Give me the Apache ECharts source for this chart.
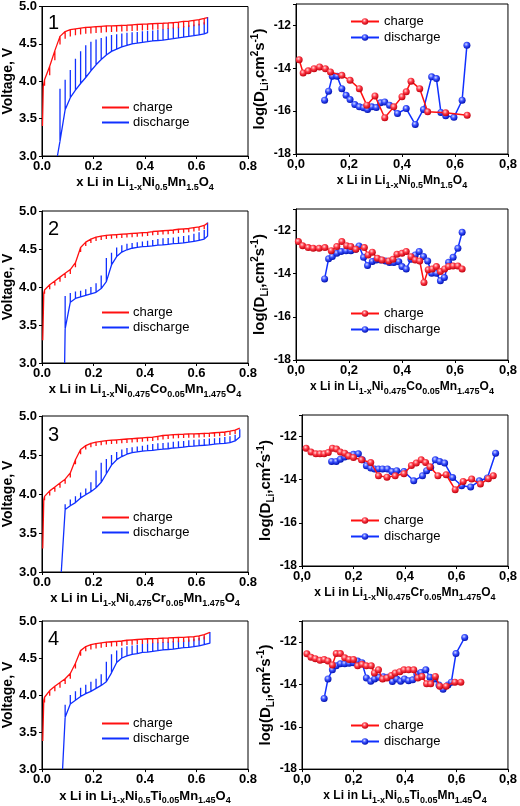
<!DOCTYPE html>
<html><head><meta charset="utf-8">
<script src="https://cdn.jsdelivr.net/npm/echarts@6.0.0/dist/echarts.min.js"></script>
<style>html,body{margin:0;padding:0;background:#fff}#c{width:520px;height:806px}</style>
</head><body><div id="c"></div>
<script>
// ---------- tick labels ----------
const xTickLabelsL = ['0.0','0.2','0.4','0.6','0.8'];
const xTickLabelsR = ['0,0','0,2','0,4','0,6','0,8'];
const vTickLabels = ['3.0','3.5','4.0','4.5','5.0'];
const dTickLabels = ['-18','-16','-14','-12'];
const panelNumbers = ['1','2','3','4'];
const formulaNames = [
  'x Li in Li{s|1-x}Ni{s|0.5}Mn{s|1.5}O{s|4}',
  'x Li in Li{s|1-x}Ni{s|0.475}Co{s|0.05}Mn{s|1.475}O{s|4}',
  'x Li in Li{s|1-x}Ni{s|0.475}Cr{s|0.05}Mn{s|1.475}O{s|4}',
  'x Li in Li{s|1-x}Ni{s|0.5}Ti{s|0.05}Mn{s|1.45}O{s|4}'
];

// ---------- GITT voltage data (pulse x, voltage under load, relaxed voltage) ----------
const pulseX = [0.01,0.03,0.05,0.07,0.09,0.11,0.13,0.15,0.17,0.19,0.21,0.23,0.25,0.27,0.29,0.31,0.33,0.35,0.37,0.39,0.41,0.43,0.45,0.47,0.49,0.51,0.53,0.55,0.57,0.59,0.61,0.63];
const pulseX3 = [0.01,0.03,0.05,0.07,0.09,0.11,0.13,0.15,0.17,0.19,0.21,0.23,0.25,0.27,0.29,0.31,0.33,0.35,0.37,0.39,0.41,0.43,0.45,0.47,0.49,0.51,0.53,0.55,0.57,0.59,0.61,0.63,0.65,0.67,0.69,0.71,0.73,0.75];

// panel 1
const p1ChgHead = [[0.002,3.40],[0.005,3.93]];
const p1ChgV = [4.02,4.20,4.41,4.60,4.665,4.69,4.70,4.71,4.72,4.725,4.73,4.735,4.74,4.742,4.745,4.748,4.75,4.755,4.76,4.763,4.766,4.77,4.773,4.776,4.78,4.785,4.79,4.80,4.805,4.815,4.825,4.84];
const p1ChgR = [3.94,4.08,4.28,4.49,4.57,4.60,4.615,4.625,4.635,4.64,4.645,4.65,4.655,4.66,4.662,4.665,4.668,4.672,4.676,4.68,4.684,4.688,4.692,4.696,4.70,4.705,4.71,4.72,4.725,4.735,4.745,4.76];
const p1ChgTail = [[0.643,4.85]];
const p1DisHead = [[0.06,3.00]];
const p1DisV = [null,null,null,3.20,3.62,3.78,3.88,3.97,4.05,4.14,4.22,4.29,4.35,4.40,4.43,4.46,4.48,4.50,4.51,4.52,4.53,4.54,4.545,4.55,4.56,4.57,4.58,4.59,4.60,4.61,4.62,4.635];
const p1DisR = [null,null,null,3.90,4.02,4.15,4.30,4.40,4.48,4.53,4.56,4.58,4.60,4.62,4.63,4.64,4.65,4.655,4.66,4.67,4.675,4.68,4.69,4.70,4.71,4.72,4.73,4.74,4.75,4.76,4.77,4.79];
const p1DisTail = [[0.643,4.65],[0.643,4.86]];

// panel 2
const p2ChgHead = [[0.003,3.30],[0.007,3.92]];
const p2ChgV = [3.96,4.03,4.08,4.13,4.18,4.23,4.32,4.52,4.59,4.63,4.655,4.67,4.68,4.685,4.69,4.695,4.70,4.705,4.71,4.715,4.72,4.73,4.735,4.74,4.745,4.75,4.76,4.765,4.77,4.78,4.79,4.81];
const p2ChgR = [3.91,3.97,4.02,4.07,4.12,4.17,4.26,4.46,4.54,4.58,4.605,4.62,4.63,4.635,4.64,4.645,4.65,4.655,4.66,4.665,4.67,4.68,4.685,4.69,4.695,4.70,4.71,4.715,4.72,4.73,4.74,4.76];
const p2ChgTail = [[0.643,4.84]];
const p2DisHead = [[0.088,3.00]];
const p2DisV = [null,null,null,null,3.45,3.80,3.85,3.87,3.89,3.91,3.93,3.98,4.07,4.29,4.40,4.46,4.49,4.51,4.52,4.53,4.535,4.54,4.55,4.555,4.56,4.57,4.575,4.58,4.59,4.60,4.615,4.63];
const p2DisR = [null,null,null,null,3.88,3.92,3.94,3.95,3.97,4.00,4.05,4.15,4.38,4.45,4.52,4.55,4.57,4.58,4.59,4.60,4.61,4.62,4.63,4.64,4.645,4.65,4.66,4.67,4.68,4.70,4.72,4.75];
const p2DisTail = [[0.643,4.67],[0.643,4.85]];

// panel 3
const p3ChgHead = [[0.003,3.30],[0.007,3.93]];
const p3ChgV = [3.97,4.04,4.09,4.14,4.19,4.27,4.44,4.57,4.62,4.65,4.665,4.675,4.685,4.69,4.695,4.70,4.705,4.71,4.715,4.72,4.725,4.73,4.74,4.75,4.755,4.76,4.765,4.767,4.77,4.772,4.775,4.778,4.78,4.785,4.79,4.795,4.805,4.82];
const p3ChgR = [3.92,3.98,4.03,4.08,4.13,4.21,4.38,4.51,4.57,4.60,4.615,4.625,4.635,4.64,4.645,4.65,4.655,4.66,4.665,4.67,4.675,4.68,4.69,4.70,4.705,4.71,4.715,4.717,4.72,4.722,4.725,4.728,4.73,4.735,4.74,4.745,4.755,4.77];
const p3ChgTail = [[0.768,4.845]];
const p3DisHead = [[0.075,3.00]];
const p3DisV = [null,null,null,null,3.80,3.85,3.89,3.95,3.99,4.03,4.08,4.15,4.26,4.37,4.44,4.48,4.51,4.53,4.54,4.55,4.555,4.56,4.57,4.575,4.58,4.59,4.595,4.60,4.61,4.615,4.62,4.625,4.63,4.64,4.645,4.65,4.66,4.68];
const p3DisR = [null,null,null,null,3.87,3.93,3.97,4.02,4.07,4.15,4.30,4.40,4.45,4.50,4.54,4.57,4.59,4.60,4.61,4.62,4.63,4.64,4.65,4.655,4.66,4.67,4.675,4.68,4.69,4.695,4.70,4.705,4.71,4.715,4.72,4.73,4.74,4.76];
const p3DisTail = [[0.768,4.73],[0.768,4.83]];

// panel 4
const p4ChgHead = [[0.003,3.38],[0.007,3.93]];
const p4ChgV = [3.97,4.06,4.12,4.17,4.22,4.29,4.43,4.60,4.655,4.68,4.695,4.705,4.715,4.72,4.725,4.73,4.74,4.745,4.75,4.755,4.76,4.763,4.766,4.77,4.772,4.775,4.778,4.78,4.785,4.79,4.80,4.815];
const p4ChgR = [3.90,3.99,4.05,4.10,4.15,4.22,4.36,4.53,4.59,4.615,4.63,4.64,4.65,4.655,4.66,4.665,4.675,4.68,4.685,4.69,4.695,4.698,4.70,4.705,4.707,4.71,4.713,4.715,4.72,4.725,4.735,4.75];
const p4ChgTail = [[0.652,4.845]];
const p4DisHead = [[0.08,3.00]];
const p4DisV = [null,null,null,null,3.70,3.88,3.93,3.98,4.02,4.05,4.09,4.13,4.18,4.30,4.44,4.50,4.53,4.55,4.56,4.575,4.58,4.59,4.60,4.61,4.615,4.62,4.63,4.64,4.645,4.655,4.665,4.68];
const p4DisR = [null,null,null,null,3.87,4.00,4.05,4.10,4.14,4.18,4.22,4.28,4.45,4.55,4.60,4.64,4.66,4.67,4.68,4.69,4.70,4.705,4.71,4.715,4.72,4.73,4.735,4.74,4.75,4.76,4.77,4.79];
const p4DisTail = [[0.652,4.70],[0.652,4.85]];

// ---------- diffusion coefficient data log(D) ----------
const d1ChgX = [0.012,0.027,0.046,0.068,0.089,0.111,0.130,0.173,0.204,0.239,0.267,0.298,0.335,0.369,0.400,0.416,0.434,0.467,0.497,0.565,0.646];
const d1ChgY = [-13.60,-14.22,-14.12,-14.02,-13.94,-14.02,-14.17,-14.33,-14.56,-14.95,-15.72,-15.29,-16.31,-15.80,-15.33,-15.10,-14.60,-14.95,-16.03,-16.08,-16.19];
const d1DisX = [0.108,0.123,0.137,0.155,0.173,0.189,0.204,0.222,0.239,0.255,0.270,0.286,0.303,0.319,0.335,0.353,0.383,0.416,0.450,0.481,0.512,0.530,0.547,0.565,0.596,0.627,0.645];
const d1DisY = [-15.49,-15.07,-14.37,-14.37,-14.95,-15.26,-15.46,-15.69,-15.80,-15.84,-15.92,-15.80,-15.83,-15.61,-15.57,-15.72,-16.11,-15.88,-16.62,-15.92,-14.40,-14.48,-16.06,-16.22,-16.29,-15.49,-12.93];

const d2ChgX = [0.009,0.025,0.046,0.065,0.087,0.109,0.133,0.154,0.173,0.191,0.207,0.226,0.258,0.272,0.288,0.307,0.325,0.350,0.366,0.381,0.400,0.416,0.434,0.450,0.467,0.483,0.499,0.514,0.530,0.545,0.561,0.576,0.593,0.611,0.627];
const d2ChgY = [-12.51,-12.70,-12.79,-12.82,-12.82,-12.79,-12.93,-12.74,-12.51,-12.70,-12.74,-12.87,-12.79,-13.13,-13.00,-13.28,-13.36,-13.41,-13.33,-13.10,-13.05,-12.97,-13.21,-13.36,-13.41,-14.41,-13.82,-13.78,-13.67,-13.90,-13.78,-13.67,-13.64,-13.64,-13.78];
const d2DisX = [0.108,0.123,0.137,0.154,0.170,0.189,0.207,0.225,0.238,0.255,0.270,0.288,0.303,0.319,0.338,0.353,0.369,0.388,0.400,0.416,0.434,0.450,0.465,0.481,0.497,0.512,0.530,0.545,0.560,0.576,0.593,0.611,0.627];
const d2DisY = [-14.24,-13.31,-13.20,-13.05,-12.97,-12.94,-12.93,-12.87,-12.71,-13.24,-13.62,-13.43,-13.36,-13.36,-13.41,-13.48,-13.48,-13.44,-13.67,-13.78,-13.33,-13.13,-12.97,-13.20,-13.41,-13.98,-13.98,-14.33,-14.18,-13.47,-13.24,-12.82,-12.08];

const d3ChgX = [0.016,0.035,0.054,0.070,0.086,0.102,0.118,0.134,0.149,0.166,0.181,0.200,0.231,0.267,0.297,0.330,0.362,0.396,0.425,0.444,0.463,0.480,0.497,0.528,0.560,0.595,0.626,0.659,0.693,0.724,0.743];
const d3ChgY = [-12.54,-12.72,-12.80,-12.80,-12.80,-12.74,-12.54,-12.58,-12.72,-12.77,-12.90,-12.97,-13.08,-13.20,-13.82,-13.88,-13.82,-13.72,-13.34,-13.23,-13.08,-13.20,-13.40,-13.82,-13.77,-14.46,-14.08,-13.97,-14.20,-13.95,-13.82];
const d3DisX = [0.115,0.133,0.149,0.166,0.181,0.200,0.219,0.234,0.250,0.267,0.282,0.297,0.313,0.332,0.349,0.368,0.396,0.434,0.468,0.484,0.500,0.518,0.535,0.554,0.585,0.620,0.655,0.689,0.720,0.752];
const d3DisY = [-13.15,-13.15,-13.05,-12.95,-12.89,-12.82,-12.80,-13.08,-13.35,-13.46,-13.50,-13.50,-13.50,-13.50,-13.62,-13.58,-13.62,-14.05,-13.82,-13.58,-13.43,-13.08,-13.15,-13.23,-13.90,-14.28,-14.34,-14.05,-13.92,-12.77];

const d4ChgX = [0.019,0.035,0.052,0.070,0.086,0.101,0.118,0.133,0.149,0.166,0.183,0.200,0.216,0.233,0.250,0.269,0.281,0.297,0.313,0.330,0.347,0.362,0.380,0.396,0.414,0.434,0.450,0.466,0.484,0.500,0.518,0.535,0.560,0.594,0.617];
const d4ChgY = [-12.55,-12.71,-12.78,-12.86,-12.82,-12.89,-13.08,-12.54,-12.54,-12.74,-12.82,-12.82,-13.12,-13.05,-13.12,-13.12,-13.46,-13.31,-13.74,-13.69,-13.58,-13.46,-13.40,-13.31,-13.31,-13.31,-13.69,-13.62,-13.97,-13.97,-13.62,-14.08,-14.08,-13.89,-13.89];
const d4DisX = [0.086,0.101,0.118,0.133,0.149,0.166,0.183,0.200,0.216,0.233,0.250,0.267,0.282,0.299,0.316,0.332,0.351,0.368,0.383,0.398,0.414,0.430,0.446,0.462,0.481,0.497,0.516,0.532,0.548,0.567,0.580,0.598,0.632];
const d4DisY = [-14.66,-13.74,-13.31,-13.12,-13.02,-13.02,-13.00,-12.97,-12.89,-12.97,-13.69,-13.85,-13.74,-13.66,-13.63,-13.66,-13.86,-13.74,-13.85,-13.74,-13.82,-13.78,-13.51,-13.43,-13.31,-13.66,-13.74,-14.02,-14.23,-14.02,-13.89,-12.54,-11.78];

// ---------- builders ----------
function gitt(head, xs, v, r, tail) {
  const d = head.slice();
  for (let i = 0; i < xs.length; i++) {
    if (v[i] == null) continue;
    d.push([xs[i], v[i]]);
    if (r[i] != null && r[i] !== v[i]) { d.push([xs[i], r[i]]); d.push([xs[i], v[i]]); }
  }
  return d.concat(tail);
}
function zip(xs, ys) { return xs.map((x, i) => [x, ys[i]]); }

const gittData = [
  [gitt(p1ChgHead, pulseX, p1ChgV, p1ChgR, p1ChgTail), gitt(p1DisHead, pulseX, p1DisV, p1DisR, p1DisTail)],
  [gitt(p2ChgHead, pulseX, p2ChgV, p2ChgR, p2ChgTail), gitt(p2DisHead, pulseX, p2DisV, p2DisR, p2DisTail)],
  [gitt(p3ChgHead, pulseX3, p3ChgV, p3ChgR, p3ChgTail), gitt(p3DisHead, pulseX3, p3DisV, p3DisR, p3DisTail)],
  [gitt(p4ChgHead, pulseX, p4ChgV, p4ChgR, p4ChgTail), gitt(p4DisHead, pulseX, p4DisV, p4DisR, p4DisTail)]
];
const dData = [
  [zip(d1ChgX, d1ChgY), zip(d1DisX, d1DisY)],
  [zip(d2ChgX, d2ChgY), zip(d2DisX, d2DisY)],
  [zip(d3ChgX, d3ChgY), zip(d3DisX, d3DisY)],
  [zip(d4ChgX, d4ChgY), zip(d4DisX, d4DisY)]
];

// ---------- layout ----------
const gridsL = [
  {left:39, top:5, width:209, height:151},
  {left:39, top:211, width:209, height:152},
  {left:39, top:416, width:209, height:156},
  {left:39, top:621, width:209, height:152}
];
const gridsR = [
  {left:296, top:4, width:215, height:150},
  {left:296, top:209, width:215, height:151},
  {left:302, top:415, width:211, height:151},
  {left:302, top:621, width:211, height:151}
];
const nameGapL = [10, 7, 10, 7];
const nameGapR = [8, 10, 14, 9];
const legendTopL = [96, 301, 506, 712];
const legendTopR = [10, 302, 509, 714];
const numTop = [8, 214, 420, 624];

const FONT = 'Liberation Sans, Arial, sans-serif';
const RED = '#ff1010', BLUE = '#1030ff';
const redBall = new echarts.graphic.RadialGradient(0.4, 0.35, 0.65, [
  {offset:0, color:'#ffd8d8'}, {offset:0.45, color:'#ff3a48'}, {offset:1, color:'#c0000c'}]);
const blueBall = new echarts.graphic.RadialGradient(0.4, 0.35, 0.65, [
  {offset:0, color:'#d0d8ff'}, {offset:0.45, color:'#3a50ff'}, {offset:1, color:'#0010b0'}]);

const grid = [], xAxis = [], yAxis = [], series = [], legend = [], title = [];

function labelLookup(arr, min, step) { return v => arr[Math.round((v - min) / step)]; }

for (let p = 0; p < 4; p++) {
  // left panel
  grid.push(Object.assign({show:true, borderColor:'#000', borderWidth:1, containLabel:false}, gridsL[p]));
  const gi = grid.length - 1;
  xAxis.push({type:'value', gridIndex:gi, min:0, max:0.8, interval:0.2,
    axisLine:{show:true, onZero:false, lineStyle:{color:'#000', width:1}},
    axisTick:{show:true, inside:false, length:3, lineStyle:{color:'#000'}},
    splitLine:{show:false},
    axisLabel:{color:'#000', fontSize:13, fontWeight:'bold', fontFamily:FONT, margin:4,
      formatter: labelLookup(xTickLabelsL, 0, 0.2)},
    name: formulaNames[p], nameLocation:'middle', nameGap:nameGapL[p],
    nameTextStyle:{color:'#000', fontSize:13, fontWeight:'bold', fontFamily:FONT, lineHeight:18,
      rich:{s:{fontSize:9, fontWeight:'bold', fontFamily:FONT, lineHeight:9, verticalAlign:'bottom', color:'#000'}}}
  });
  yAxis.push({type:'value', gridIndex:gi, min:3, max:5, interval:0.5,
    axisLine:{show:true, onZero:false, lineStyle:{color:'#000', width:1}},
    axisTick:{show:true, inside:false, length:3, lineStyle:{color:'#000'}},
    splitLine:{show:false},
    axisLabel:{color:'#000', fontSize:13, fontWeight:'bold', fontFamily:FONT, margin:5,
      formatter: labelLookup(vTickLabels, 3, 0.5)},
    name:'Voltage, V', nameLocation:'middle', nameGap:23,
    nameTextStyle:{color:'#000', fontSize:14, fontWeight:'bold', fontFamily:FONT}
  });
  series.push({type:'line', name:'charge', xAxisIndex:gi, yAxisIndex:gi, data:gittData[p][0],
    symbol:'none', showSymbol:false, lineStyle:{color:RED, width:1.3}, itemStyle:{color:RED}, z:3, animation:false});
  series.push({type:'line', name:'discharge', xAxisIndex:gi, yAxisIndex:gi, data:gittData[p][1],
    symbol:'none', showSymbol:false, lineStyle:{color:BLUE, width:1.3}, itemStyle:{color:BLUE}, z:2, animation:false});
  legend.push({left:97, top:legendTopL[p], orient:'vertical', itemWidth:27, itemHeight:2, itemGap:2,
    data:[{name:'charge', icon:'rect'}, {name:'discharge', icon:'rect'}],
    textStyle:{color:'#000', fontSize:13, fontFamily:FONT, padding:[0,0,0,-1]}, selectedMode:false});
  title.push({text:panelNumbers[p], left:43, top:numTop[p], textStyle:{fontSize:20, fontWeight:'normal', fontFamily:FONT, color:'#000'}});

  // right panel
  grid.push(Object.assign({show:true, borderColor:'#000', borderWidth:1, containLabel:false}, gridsR[p]));
  const gj = grid.length - 1;
  xAxis.push({type:'value', gridIndex:gj, min:0, max:0.8, interval:0.2,
    axisLine:{show:true, onZero:false, lineStyle:{color:'#000', width:1}},
    axisTick:{show:true, inside:false, length:3, lineStyle:{color:'#000'}},
    splitLine:{show:false},
    axisLabel:{color:'#000', fontSize:13, fontWeight:'bold', fontFamily:FONT, margin:4,
      formatter: labelLookup(xTickLabelsR, 0, 0.2)},
    name: formulaNames[p], nameLocation:'middle', nameGap:nameGapR[p],
    nameTextStyle:{color:'#000', fontSize:12, fontWeight:'bold', fontFamily:FONT, lineHeight:18,
      rich:{s:{fontSize:9, fontWeight:'bold', fontFamily:FONT, lineHeight:9, verticalAlign:'bottom', color:'#000'}}}
  });
  yAxis.push({type:'value', gridIndex:gj, min:-18, max:-11, interval:2,
    axisLine:{show:true, onZero:false, lineStyle:{color:'#000', width:1}},
    axisTick:{show:true, inside:false, length:3, lineStyle:{color:'#000'}},
    splitLine:{show:false},
    axisLabel:{color:'#000', fontSize:12, fontWeight:'bold', fontFamily:FONT, margin:5,
      formatter: labelLookup(dTickLabels, -18, 2)},
    name:'log(D{s|Li},cm{p|2}s{p|-1})', nameLocation:'middle', nameGap:19,
    nameTextStyle:{color:'#000', fontSize:15, fontWeight:'bold', fontFamily:FONT, lineHeight:20,
      rich:{s:{fontSize:10, fontWeight:'bold', fontFamily:FONT, lineHeight:10, verticalAlign:'bottom', color:'#000'},
            p:{fontSize:10, fontWeight:'bold', fontFamily:FONT, lineHeight:10, verticalAlign:'top', color:'#000'}}}
  });
  series.push({type:'line', name:'charge ', xAxisIndex:gj, yAxisIndex:gj, data:dData[p][0],
    symbol:'circle', symbolSize:7, showSymbol:true, lineStyle:{color:RED, width:1.5},
    itemStyle:{color:redBall, borderWidth:0}, z:3, animation:false});
  series.push({type:'line', name:'discharge ', xAxisIndex:gj, yAxisIndex:gj, data:dData[p][1],
    symbol:'circle', symbolSize:7, showSymbol:true, lineStyle:{color:BLUE, width:1.5},
    itemStyle:{color:blueBall, borderWidth:0}, z:2, animation:false});
  legend.push({left:345, top:legendTopR[p], orient:'vertical', itemWidth:28, itemHeight:8, itemGap:3,
    data:['charge ', 'discharge '], formatter: n => n.trim(),
    textStyle:{color:'#000', fontSize:13, fontFamily:FONT}, selectedMode:false});
}

const chart = echarts.init(document.getElementById('c'), null, {renderer:'canvas'});
chart.setOption({backgroundColor:'#fff', animation:false, grid, xAxis, yAxis, series, legend, title});
</script></body></html>
